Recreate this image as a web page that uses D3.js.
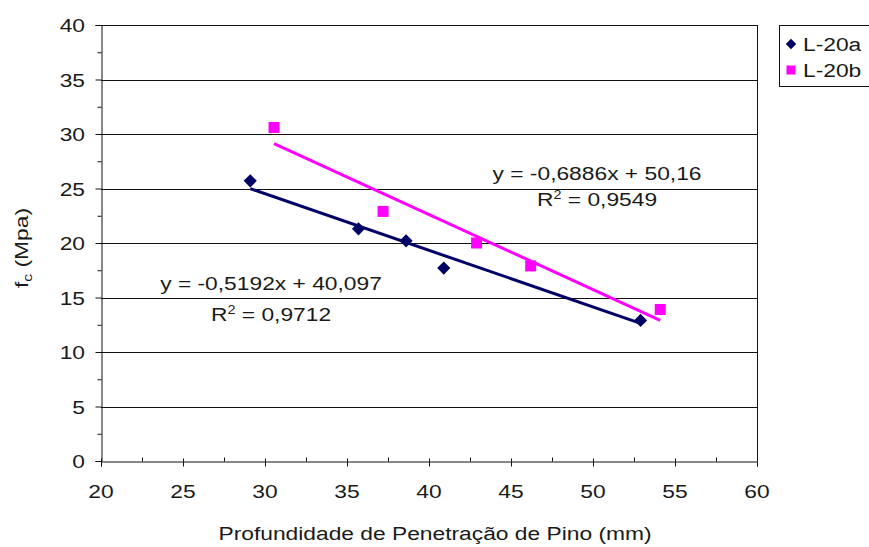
<!DOCTYPE html>
<html>
<head>
<meta charset="utf-8">
<script src="https://cdn.jsdelivr.net/npm/d3@7"></script>
<style>
  html, body { margin: 0; padding: 0; background: #fff; }
  svg { display: block; font-family: "Liberation Sans", Arial, sans-serif; }
</style>
</head>
<body>
<svg id="chart" width="869" height="547"></svg>
<script>
// ---- data ----
const seriesNames = ["L-20a", "L-20b"];
const seriesColors = ["#000066", "#ff00ff"];
const xA = [29.1, 35.7, 38.6, 40.9, 52.9];
const yA = [25.7, 21.3, 20.2, 17.7, 12.9];
const xB = [30.55, 37.2, 42.9, 46.2, 54.1];
const yB = [30.6, 22.9, 20.0, 17.9, 13.9];
const slopes = [-0.5192, -0.6886];
const intercepts = [40.097, 50.16];
const eqLabels = ["y = -0,5192x + 40,097", "y = -0,6886x + 50,16"];
const r2Values = ["0,9712", "0,9549"];
const xTicks = [20, 25, 30, 35, 40, 45, 50, 55, 60];
const yTicks = [0, 5, 10, 15, 20, 25, 30, 35, 40];
const xTitle = "Profundidade de Penetração de Pino (mm)";

// ---- layout ----
const svg = d3.select("#chart");
const FS = 19, SX = 1.2;
const x = d3.scaleLinear().domain([20, 60]).range([101, 757]);
const y = d3.scaleLinear().domain([0, 40]).range([461, 25]);

function txt(g, px, py, s, anchor, rot) {
  return g.append("text")
    .attr("transform", `translate(${px},${py})` + (rot ? ` rotate(${rot})` : "") + ` scale(${SX},1)`)
    .attr("text-anchor", anchor || "start")
    .attr("font-size", FS)
    .attr("fill", "#1a1a1a")
    .text(s);
}

// gridlines
svg.append("g").selectAll("line").data(yTicks.filter(d => d > 0)).join("line")
  .attr("x1", x(20)).attr("x2", x(60))
  .attr("y1", d => Math.round(y(d)) + 0.5).attr("y2", d => Math.round(y(d)) + 0.5)
  .attr("stroke", "#111").attr("stroke-width", 1);
// right border
svg.append("line")
  .attr("x1", Math.round(x(60)) + 0.5).attr("x2", Math.round(x(60)) + 0.5)
  .attr("y1", y(40)).attr("y2", y(0))
  .attr("stroke", "#111");

// y axis
const yAxis = d3.axisLeft(y).tickValues(yTicks).tickSize(6).tickFormat("");
svg.append("g").attr("transform", `translate(${Math.round(x(20)) + 0.5},0)`).call(yAxis);
const yMinor = d3.axisLeft(y).tickValues(d3.range(2.5, 40, 5)).tickSize(4).tickFormat("");
svg.append("g").attr("transform", `translate(${Math.round(x(20)) + 0.5},0)`).call(yMinor)
  .call(g => g.select(".domain").remove());
yTicks.forEach(v => txt(svg, 85, y(v) + 7, String(v), "end"));

// x axis
const xAxis = d3.axisBottom(x).tickValues(xTicks).tickSize(5).tickFormat("");
svg.append("g").attr("transform", `translate(0,${Math.round(y(0)) + 0.5})`).call(xAxis);
const xUp = d3.axisTop(x).tickValues(xTicks).tickSize(3).tickFormat("");
svg.append("g").attr("transform", `translate(0,${Math.round(y(0)) + 0.5})`).call(xUp)
  .call(g => g.select(".domain").remove());
const xMinor = d3.axisTop(x).tickValues(d3.range(22.5, 60, 5)).tickSize(4).tickFormat("");
svg.append("g").attr("transform", `translate(0,${Math.round(y(0)) + 0.5})`).call(xMinor)
  .call(g => g.select(".domain").remove());
xTicks.forEach(v => txt(svg, x(v), 498, String(v), "middle"));

svg.selectAll(".domain, .tick line").attr("stroke", "#111");

// axis titles
txt(svg, 435, 540, xTitle, "middle");
const yt = svg.append("text")
  .attr("transform", `translate(28,248) rotate(-90) scale(${SX},1)`)
  .attr("text-anchor", "middle").attr("font-size", FS).attr("fill", "#1a1a1a");
yt.append("tspan").text("f");
yt.append("tspan").attr("font-size", 13).attr("dy", 4).text("c");
yt.append("tspan").attr("dy", -4).text(" (Mpa)");

// trend lines
const xs = [xA, xB];
[0, 1].forEach(i => {
  const x0 = d3.min(xs[i]), x1 = d3.max(xs[i]);
  svg.append("line")
    .attr("x1", x(x0)).attr("y1", y(slopes[i] * x0 + intercepts[i]))
    .attr("x2", x(x1)).attr("y2", y(slopes[i] * x1 + intercepts[i]))
    .attr("stroke", seriesColors[i]).attr("stroke-width", 3);
});

// points
const diamond = d3.symbol().type(d3.symbolDiamond2).size(110);
svg.append("g").selectAll("path").data(d3.zip(xA, yA)).join("path")
  .attr("d", diamond)
  .attr("transform", d => `translate(${x(d[0])},${y(d[1])})`)
  .attr("fill", seriesColors[0]);
svg.append("g").selectAll("rect").data(d3.zip(xB, yB)).join("rect")
  .attr("x", d => x(d[0]) - 5.5).attr("y", d => y(d[1]) - 5.5)
  .attr("width", 11).attr("height", 11)
  .attr("fill", seriesColors[1]);

// equation labels
function eq(cx, by, gap, i) {
  txt(svg, cx, by, eqLabels[i], "middle");
  const t = svg.append("text")
    .attr("transform", `translate(${cx},${by + gap}) scale(${SX},1)`)
    .attr("text-anchor", "middle").attr("font-size", FS).attr("fill", "#1a1a1a");
  t.append("tspan").text("R");
  t.append("tspan").attr("font-size", 12).attr("dy", -7).text("2");
  t.append("tspan").attr("dy", 7).text(" = " + r2Values[i]);
}
eq(271, 290, 31, 0);
eq(597, 180, 26, 1);

// legend
const lg = svg.append("g");
lg.append("rect").attr("x", 779.5).attr("y", 25.5).attr("width", 120).attr("height", 61)
  .attr("fill", "#fff").attr("stroke", "#111");
lg.append("path").attr("d", d3.symbol().type(d3.symbolDiamond2).size(70))
  .attr("transform", "translate(791,44)").attr("fill", seriesColors[0]);
lg.append("rect").attr("x", 786.5).attr("y", 65.5).attr("width", 9).attr("height", 9)
  .attr("fill", seriesColors[1]);
txt(lg, 803, 51, seriesNames[0], "start");
txt(lg, 803, 77, seriesNames[1], "start");
</script>
</body>
</html>
